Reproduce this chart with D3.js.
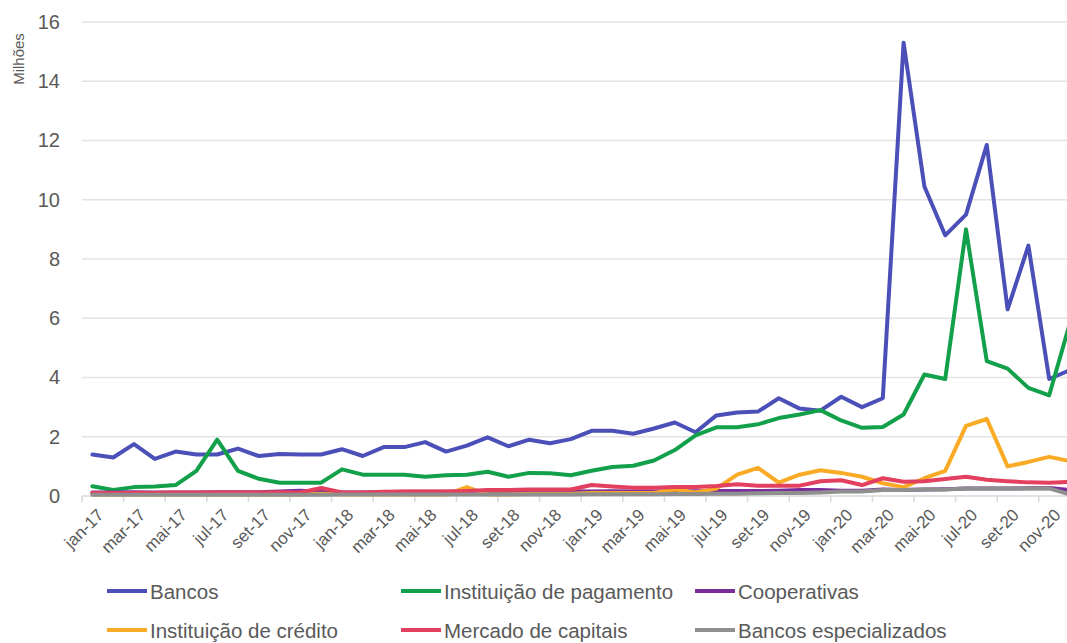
<!DOCTYPE html>
<html><head><meta charset="utf-8">
<script src="https://cdn.jsdelivr.net/npm/d3@7"></script>
<style>
html,body{margin:0;padding:0;background:#fff;}
svg{display:block;font-family:"Liberation Sans",Arial,sans-serif;}
</style></head>
<body><svg id="c" width="1067" height="643"></svg>
<script>
const months = ["jan","fev","mar","abr","mai","jun","jul","ago","set","out","nov","dez"];
const years = ["17","18","19","20"];
const categories = [];
years.forEach(y => months.forEach(m => categories.push(m + "-" + y)));

const bancos = [1.4,1.3,1.75,1.25,1.5,1.4,1.4,1.6,1.35,1.42,1.4,1.4,
  1.58,1.35,1.65,1.65,1.82,1.5,1.7,1.98,1.68,1.9,1.78,1.92,
  2.2,2.2,2.1,2.28,2.48,2.15,2.72,2.82,2.85,3.3,2.95,2.88,
  3.35,3.0,3.3,15.3,10.45,8.8,9.5,11.85,6.3,8.45,3.95,4.25];
const pagamento = [0.33,0.2,0.3,0.32,0.37,0.85,1.9,0.85,0.58,0.45,0.45,0.45,
  0.9,0.72,0.72,0.72,0.65,0.7,0.72,0.82,0.65,0.78,0.77,0.7,
  0.85,0.98,1.02,1.2,1.55,2.05,2.32,2.32,2.42,2.63,2.75,2.9,
  2.55,2.3,2.33,2.75,4.1,3.95,9.0,4.55,4.3,3.65,3.4,5.85];
const cooperativas = [0.12,0.12,0.13,0.12,0.12,0.12,0.13,0.13,0.13,0.15,0.18,0.14,
  0.12,0.12,0.13,0.14,0.14,0.14,0.14,0.15,0.15,0.15,0.16,0.16,
  0.15,0.16,0.15,0.15,0.16,0.16,0.17,0.17,0.17,0.18,0.2,0.2,
  0.18,0.18,0.22,0.2,0.22,0.23,0.25,0.25,0.25,0.26,0.27,0.2];
const credito = [0.05,0.05,0.05,0.05,0.05,0.05,0.05,0.05,0.05,0.05,0.05,0.08,
  0.05,0.05,0.05,0.05,0.05,0.05,0.3,0.05,0.05,0.08,0.08,0.08,
  0.1,0.1,0.1,0.1,0.22,0.12,0.25,0.72,0.95,0.45,0.72,0.87,
  0.78,0.65,0.43,0.3,0.6,0.85,2.37,2.6,1.0,1.15,1.32,1.18];
const capitais = [0.1,0.1,0.1,0.1,0.12,0.12,0.12,0.12,0.12,0.13,0.12,0.27,
  0.12,0.12,0.14,0.15,0.15,0.15,0.17,0.2,0.2,0.22,0.22,0.22,
  0.37,0.32,0.28,0.28,0.3,0.3,0.34,0.4,0.35,0.35,0.35,0.5,
  0.53,0.37,0.6,0.48,0.5,0.57,0.65,0.55,0.5,0.46,0.45,0.48];
const especializados = [0.04,0.04,0.04,0.04,0.04,0.04,0.04,0.04,0.04,0.04,0.04,0.04,
  0.05,0.05,0.05,0.05,0.05,0.05,0.05,0.05,0.05,0.05,0.05,0.05,
  0.06,0.06,0.06,0.06,0.07,0.07,0.08,0.08,0.09,0.1,0.1,0.12,
  0.15,0.15,0.2,0.2,0.22,0.22,0.25,0.25,0.25,0.25,0.26,0.05];
const yTicks = [0,2,4,6,8,10,12,14,16];
const xTickLabels = categories.filter((d,i) => i % 2 === 0);

const seriesNames = ["Bancos","Instituição de pagamento","Cooperativas","Instituição de crédito","Mercado de capitais","Bancos especializados"];
const seriesValues = [bancos,pagamento,cooperativas,credito,capitais,especializados];
const seriesColors = ["#4b50b8","#12a04a","#7a2e9c","#f9ab25","#e2405e","#8f8f8f"];

const svg = d3.select("#c");
const x = d3.scaleBand().domain(categories).range([82, 82 + 48*20.8]);
const y = d3.scaleLinear().domain([0,16]).range([496, 22]);

// gridlines
svg.append("g").selectAll("line").data(yTicks.filter(d=>d>0)).join("line")
  .attr("x1", 82).attr("x2", 1067)
  .attr("y1", d=>y(d)).attr("y2", d=>y(d))
  .attr("stroke", "#e3e3e3").attr("stroke-width", 1.5);

// y axis labels
const yAxis = d3.axisLeft(y).tickValues(yTicks).tickSize(0).tickPadding(0);
const ya = svg.append("g").attr("transform","translate(60,0)").call(yAxis);
ya.select(".domain").remove();
ya.selectAll("text").attr("fill","#595959").style("font-size","20px").style("font-family","Liberation Sans, Arial, sans-serif");

svg.append("text").attr("transform","translate(24,59) rotate(-90)")
  .attr("text-anchor","middle").attr("fill","#595959").style("font-size","15px").text("Milhões");

// x axis
const xAxis = d3.axisBottom(x).tickValues(xTickLabels).tickSize(0).tickPadding(0);
const xa = svg.append("g").attr("transform","translate(0,496)").call(xAxis);
xa.select(".domain").attr("stroke","#d9d9d9").attr("stroke-width",1.5).attr("d","M82,0H1067");
xa.selectAll("text").attr("fill","#595959").style("font-size","17px").style("font-family","Liberation Sans, Arial, sans-serif")
  .attr("text-anchor","end").attr("dy",null).attr("y",0)
  .attr("transform", function(d){ return "translate(" + (x.bandwidth()/2 + 2) + ",20) rotate(-45)"; });
// ticks at category boundaries every 2 months
svg.append("g").selectAll("line").data(xTickLabels).join("line")
  .attr("x1", d=>x(d)).attr("x2", d=>x(d)).attr("y1",496).attr("y2",502)
  .attr("stroke","#d9d9d9").attr("stroke-width",1.5);

// lines
const line = d3.line().x((d,i)=>x(categories[i]) + x.bandwidth()/2).y(d=>y(d)).curve(d3.curveLinear);
seriesValues.forEach((vals,k)=>{
  svg.append("path").datum(vals).attr("d", line)
    .attr("fill","none").attr("stroke", seriesColors[k]).attr("stroke-width",4)
    .attr("stroke-linejoin","round").attr("stroke-linecap","round");
});

// legend
const legX = [107, 401, 695];
const legY = [591, 630];
seriesNames.forEach((n,k)=>{
  const lx = legX[k%3], ly = legY[Math.floor(k/3)];
  svg.append("line").attr("x1",lx).attr("x2",lx+40).attr("y1",ly).attr("y2",ly)
    .attr("stroke",seriesColors[k]).attr("stroke-width",4);
  svg.append("text").attr("x",lx+43).attr("y",ly+7.5).attr("fill","#595959")
    .style("font-size","20.5px").text(n);
});
</script></body></html>
